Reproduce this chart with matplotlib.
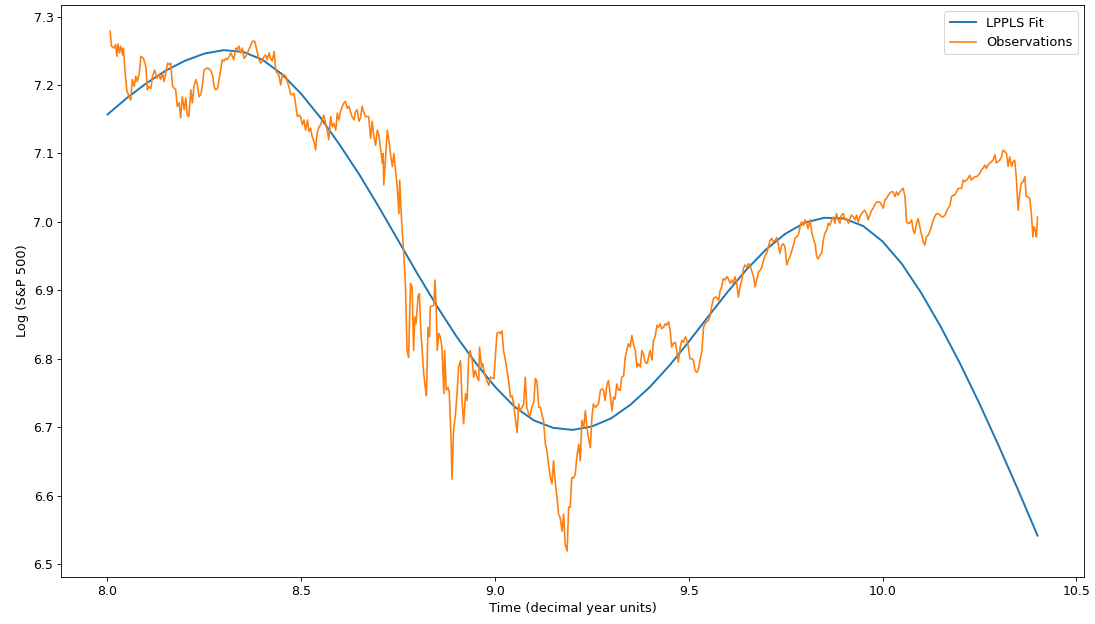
import matplotlib
matplotlib.use("Agg")
import matplotlib.pyplot as plt

# LPPLS fit curve
fit_t = [8.00, 8.05, 8.10, 8.15, 8.20, 8.25, 8.30, 8.35, 8.40, 8.45, 8.50, 8.55,
         8.60, 8.65, 8.70, 8.75, 8.80, 8.85, 8.90, 8.95, 9.00, 9.05, 9.10, 9.15,
         9.20, 9.25, 9.30, 9.35, 9.40, 9.45, 9.50, 9.55, 9.60, 9.65, 9.70, 9.75,
         9.80, 9.85, 9.90, 9.95, 10.00, 10.05, 10.10, 10.15, 10.20, 10.25, 10.30,
         10.35, 10.40]
fit_y = [7.157, 7.181, 7.2025, 7.221, 7.2355, 7.246, 7.251, 7.2485, 7.237, 7.216,
         7.187, 7.152, 7.112, 7.069, 7.022, 6.973, 6.924, 6.877, 6.833, 6.794,
         6.759, 6.730, 6.710, 6.699, 6.696, 6.701, 6.713, 6.733, 6.759, 6.790,
         6.825, 6.8615, 6.8975, 6.931, 6.960, 6.983, 6.999, 7.006, 7.005, 6.994,
         6.9715, 6.9385, 6.896, 6.847, 6.793, 6.7345, 6.6725, 6.608, 6.5415]

# Observations
obs_t = [
    8.007, 8.010, 8.017, 8.021, 8.024, 8.027, 8.031, 8.034, 8.039, 8.041, 8.045, 8.050,
    8.056, 8.060, 8.064, 8.069, 8.073, 8.077, 8.082, 8.086, 8.093, 8.099, 8.103, 8.107,
    8.112, 8.116, 8.122, 8.127, 8.133, 8.137, 8.142, 8.146, 8.155, 8.159, 8.163, 8.168,
    8.176, 8.180, 8.185, 8.189, 8.193, 8.198, 8.202, 8.206, 8.210, 8.215, 8.219, 8.223,
    8.228, 8.232, 8.236, 8.241, 8.245, 8.249, 8.258, 8.266, 8.271, 8.275, 8.279, 8.284,
    8.292, 8.296, 8.301, 8.305, 8.309, 8.314, 8.318, 8.322, 8.326, 8.331, 8.335, 8.339,
    8.344, 8.348, 8.352, 8.357, 8.361, 8.365, 8.374, 8.380, 8.385, 8.391, 8.395, 8.399,
    8.404, 8.408,
    8.412, 8.417, 8.421, 8.425, 8.430, 8.434, 8.438, 8.442, 8.447, 8.451, 8.455, 8.460,
    8.464, 8.468, 8.473, 8.477, 8.481, 8.485, 8.490, 8.494, 8.498, 8.503, 8.507, 8.511,
    8.516, 8.520, 8.524, 8.528, 8.533, 8.537, 8.541, 8.546, 8.550, 8.554, 8.558, 8.563,
    8.567, 8.571, 8.576, 8.580, 8.584, 8.589, 8.593, 8.597, 8.601, 8.606, 8.610, 8.614,
    8.619, 8.623, 8.627, 8.631, 8.636, 8.640, 8.644, 8.649, 8.653, 8.657, 8.662, 8.666,
    8.674, 8.679, 8.683, 8.687, 8.692, 8.696, 8.700, 8.704, 8.709, 8.711, 8.713, 8.717,
    8.722, 8.726, 8.730, 8.735, 8.739, 8.743, 8.747, 8.752, 8.754, 8.758, 8.760, 8.765,
    8.769, 8.773, 8.777, 8.782, 8.786, 8.790, 8.793, 8.796, 8.802, 8.805, 8.808, 8.812,
    8.816, 8.820, 8.823, 8.827, 8.831, 8.833, 8.842, 8.845, 8.848, 8.851, 8.855, 8.859,
    8.863, 8.868, 8.870, 8.874, 8.879, 8.882, 8.887, 8.889, 8.893, 8.898, 8.902, 8.906,
    8.911, 8.915, 8.919, 8.924, 8.928, 8.932, 8.936, 8.941, 8.945, 8.949, 8.954, 8.958,
    8.960, 8.965, 8.968, 8.973, 8.979, 8.984, 8.988, 8.997, 9.005, 9.009, 9.014, 9.018,
    9.022, 9.027, 9.031, 9.035, 9.040, 9.044, 9.048, 9.052, 9.057, 9.061, 9.065, 9.070,
    9.074, 9.078, 9.082, 9.087, 9.091, 9.095, 9.100, 9.104, 9.108, 9.113, 9.117, 9.121,
    9.125, 9.130, 9.134, 9.138, 9.143, 9.147, 9.151, 9.155, 9.160, 9.164, 9.168, 9.173,
    9.177, 9.181, 9.186, 9.190, 9.194, 9.198, 9.203, 9.207, 9.211, 9.216, 9.220, 9.224,
    9.229, 9.233, 9.237, 9.241, 9.246, 9.250, 9.254, 9.259, 9.267, 9.272,
    9.276, 9.280, 9.284, 9.289, 9.293, 9.297, 9.302, 9.306, 9.310, 9.314, 9.319, 9.323,
    9.327, 9.332, 9.336, 9.340, 9.344, 9.349, 9.353, 9.357, 9.362, 9.366, 9.370, 9.375,
    9.379, 9.383, 9.387, 9.392, 9.396, 9.400, 9.405, 9.409, 9.413, 9.418, 9.422, 9.426,
    9.430, 9.435, 9.439, 9.443, 9.448, 9.452, 9.456, 9.460, 9.465, 9.469, 9.473, 9.478,
    9.482, 9.486, 9.491, 9.495, 9.499, 9.503, 9.508, 9.512, 9.516, 9.521, 9.525, 9.529,
    9.534, 9.538, 9.542, 9.546, 9.551, 9.555, 9.559, 9.564, 9.568, 9.572, 9.577, 9.581,
    9.585, 9.589, 9.594, 9.598, 9.602, 9.607, 9.611, 9.615, 9.619, 9.624, 9.628, 9.632,
    9.637, 9.641, 9.645, 9.649, 9.654, 9.658, 9.662, 9.667, 9.671, 9.675, 9.680, 9.684,
    9.688, 9.692, 9.697, 9.701, 9.705, 9.710, 9.714, 9.718, 9.723, 9.727, 9.731, 9.735,
    9.740, 9.744, 9.748, 9.753, 9.757, 9.761, 9.765, 9.770, 9.774, 9.778, 9.783, 9.787,
    9.791, 9.796, 9.800, 9.804, 9.808, 9.813, 9.817, 9.821, 9.826, 9.830, 9.834, 9.838,
    9.843, 9.847, 9.851, 9.856, 9.860, 9.864, 9.869, 9.873, 9.877, 9.881, 9.886, 9.890,
    9.894, 9.899, 9.903, 9.907, 9.912, 9.916, 9.920, 9.924, 9.929, 9.933, 9.937, 9.942,
    9.946, 9.950, 9.954, 9.959, 9.963, 9.967, 9.972, 9.976, 9.980, 9.985, 9.989, 9.993,
    9.997, 10.002, 10.006, 10.010, 10.015, 10.019, 10.023, 10.027, 10.032, 10.036, 10.040,
    10.045, 10.049, 10.053, 10.058, 10.062, 10.066, 10.070, 10.075, 10.079, 10.083, 10.088,
    10.092, 10.096, 10.100, 10.105, 10.109, 10.113, 10.118, 10.122, 10.126, 10.131, 10.135,
    10.139, 10.143, 10.148, 10.152, 10.156, 10.161, 10.165, 10.169, 10.174, 10.178, 10.182,
    10.186, 10.191, 10.195, 10.199, 10.204, 10.208, 10.212, 10.217, 10.221, 10.225, 10.229,
    10.234, 10.238, 10.242, 10.247, 10.251, 10.255, 10.259, 10.264, 10.268, 10.272, 10.277,
    10.281, 10.285, 10.290, 10.294, 10.298, 10.302, 10.307, 10.311, 10.315, 10.320, 10.324,
    10.328, 10.333, 10.337, 10.341, 10.345, 10.350, 10.354, 10.358, 10.363, 10.367, 10.371,
    10.375, 10.380, 10.384, 10.388, 10.391, 10.394, 10.397, 10.400]
obs_y = [
    7.279, 7.257, 7.254, 7.259, 7.242, 7.260, 7.247, 7.257, 7.244, 7.254, 7.222, 7.191,
    7.183, 7.178, 7.208, 7.198, 7.213, 7.205, 7.217, 7.242, 7.239, 7.227, 7.193, 7.198,
    7.195, 7.213, 7.222, 7.210, 7.215, 7.208, 7.217, 7.205, 7.232, 7.230, 7.232, 7.198,
    7.193, 7.169, 7.174, 7.152, 7.183, 7.164, 7.181, 7.156, 7.154, 7.193, 7.174, 7.198,
    7.208, 7.200, 7.183, 7.186, 7.200, 7.222, 7.225, 7.222, 7.215, 7.198, 7.193, 7.195,
    7.222, 7.237, 7.235, 7.239, 7.237, 7.242, 7.247, 7.242, 7.237, 7.254, 7.252, 7.257,
    7.247, 7.254, 7.239, 7.242, 7.247, 7.252, 7.264, 7.264, 7.252, 7.237, 7.232, 7.235,
    7.242, 7.244,
    7.237, 7.247, 7.239, 7.235, 7.249, 7.222, 7.217, 7.215, 7.200, 7.215, 7.215, 7.213,
    7.205, 7.198, 7.186, 7.186, 7.188, 7.174, 7.154, 7.156, 7.154, 7.142, 7.149, 7.134,
    7.149, 7.132, 7.137, 7.125, 7.117, 7.105, 7.130, 7.139, 7.142, 7.149, 7.156, 7.144,
    7.134, 7.120, 7.154, 7.139, 7.144, 7.134, 7.159, 7.149, 7.161, 7.169, 7.174, 7.176,
    7.166, 7.169, 7.161, 7.154, 7.149, 7.161, 7.164, 7.147, 7.152, 7.169, 7.159, 7.154,
    7.154, 7.122, 7.147, 7.127, 7.112, 7.134, 7.127, 7.110, 7.086, 7.100, 7.054, 7.090,
    7.134, 7.120, 7.100, 7.081, 7.100, 7.076, 7.056, 7.012, 7.061, 7.012, 6.993, 6.949,
    6.905, 6.812, 6.802, 6.910, 6.905, 6.812, 6.861, 6.851, 6.893, 6.895, 6.846, 6.812,
    6.778, 6.758, 6.746, 6.846, 6.832, 6.876, 6.878, 6.915, 6.878, 6.812, 6.837, 6.832,
    6.817, 6.749, 6.812, 6.754, 6.758, 6.751, 6.675, 6.624, 6.695, 6.719, 6.749, 6.788,
    6.797, 6.739, 6.705, 6.749, 6.739, 6.802, 6.812, 6.797, 6.773, 6.783, 6.773, 6.768,
    6.817, 6.788, 6.793, 6.778, 6.768, 6.761, 6.773, 6.771, 6.837, 6.839, 6.837, 6.841,
    6.812, 6.797, 6.783, 6.768, 6.744, 6.746, 6.734, 6.714, 6.692, 6.734, 6.724, 6.729,
    6.734, 6.773, 6.729, 6.719, 6.717, 6.729, 6.736, 6.771, 6.768, 6.729, 6.729, 6.719,
    6.710, 6.675, 6.666, 6.646, 6.626, 6.617, 6.651, 6.622, 6.597, 6.573, 6.568, 6.548,
    6.573, 6.529, 6.519, 6.583, 6.583, 6.626, 6.626, 6.631, 6.656, 6.675, 6.651, 6.710,
    6.700, 6.724, 6.700, 6.685, 6.670, 6.714, 6.734, 6.729, 6.734, 6.754,
    6.756, 6.754, 6.739, 6.763, 6.768, 6.749, 6.724, 6.744, 6.741, 6.763, 6.754, 6.754,
    6.773, 6.775, 6.802, 6.812, 6.822, 6.817, 6.834, 6.822, 6.812, 6.788, 6.793, 6.788,
    6.812, 6.807, 6.795, 6.793, 6.802, 6.812, 6.798, 6.827, 6.832, 6.849, 6.846, 6.851,
    6.844, 6.846, 6.851, 6.849, 6.854, 6.841, 6.817, 6.822, 6.824, 6.812, 6.795, 6.817,
    6.827, 6.824, 6.832, 6.827, 6.817, 6.800, 6.800, 6.798, 6.783, 6.780, 6.785, 6.798,
    6.812, 6.846, 6.851, 6.854, 6.856, 6.863, 6.876, 6.888, 6.890, 6.890, 6.885, 6.900,
    6.905, 6.917, 6.915, 6.920, 6.917, 6.910, 6.915, 6.910, 6.920, 6.910, 6.890, 6.905,
    6.915, 6.932, 6.937, 6.934, 6.939, 6.937, 6.929, 6.920, 6.905, 6.915, 6.927, 6.929,
    6.933, 6.942, 6.951, 6.954, 6.963, 6.973, 6.976, 6.971, 6.973, 6.977, 6.968, 6.954,
    6.966, 6.968, 6.964, 6.937, 6.944, 6.949, 6.956, 6.966, 6.976, 6.978, 6.981, 6.993,
    7.000, 6.995, 7.003, 6.998, 6.990, 7.003, 6.986, 6.976, 6.968, 6.949, 6.946, 6.951,
    6.954, 6.973, 6.983, 6.988, 6.998, 6.995, 7.003, 7.007, 6.998, 7.012, 7.003, 6.998,
    7.010, 7.012, 7.003, 7.005, 6.998, 7.005, 7.010, 7.008, 7.003, 7.010, 7.000, 7.008,
    7.012, 7.015, 7.017, 7.012, 7.003, 7.010, 7.017, 7.020, 7.025, 7.029, 7.029, 7.029,
    7.025, 7.020, 7.032, 7.034, 7.039, 7.042, 7.044, 7.044, 7.037, 7.044, 7.039,
    7.044, 7.047, 7.049, 7.037, 7.000, 6.998, 6.998, 7.003, 6.988, 6.983, 6.998,
    7.005, 6.993, 6.983, 6.971, 6.966, 6.978, 6.981, 6.986, 6.993, 7.003, 7.008,
    7.012, 7.012, 7.010, 7.008, 7.007, 7.010, 7.015, 7.020, 7.024, 7.037, 7.039,
    7.039, 7.044, 7.049, 7.049, 7.049, 7.061, 7.059, 7.061, 7.064, 7.068, 7.061,
    7.064, 7.066, 7.066, 7.068, 7.071, 7.076, 7.078, 7.083, 7.078, 7.083, 7.086,
    7.088, 7.090, 7.098, 7.086, 7.088, 7.090, 7.095, 7.105, 7.103, 7.100, 7.081,
    7.095, 7.081, 7.088, 7.090, 7.066, 7.017, 7.042, 7.056, 7.059, 7.066, 7.037,
    7.037, 7.034, 7.012, 6.978, 6.993, 6.988, 6.978, 7.007]

fig = plt.figure(figsize=(1095 / 78, 624 / 78), dpi=78)
ax = fig.add_subplot(111)
fig.subplots_adjust(left=0.0557, right=0.990, bottom=0.0753, top=0.992)

ax.plot(fit_t, fit_y, color="#1f77b4", lw=1.8, label="LPPLS Fit")
ax.plot(obs_t, obs_y, color="#ff7f0e", lw=1.5, label="Observations")

ax.set_xlabel("Time (decimal year units)", fontsize=12)
ax.set_ylabel("Log (S&P 500)", fontsize=12)
ax.tick_params(labelsize=11.5)
ax.legend(loc="upper right", fontsize=12)

fig.savefig("out.png", dpi=78)
